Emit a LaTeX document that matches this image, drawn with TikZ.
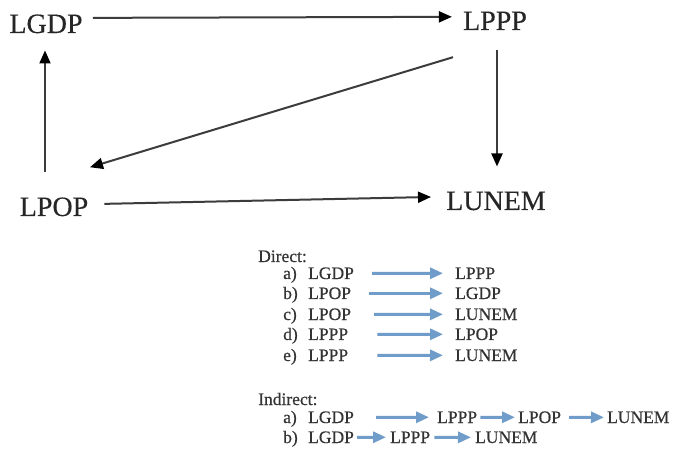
\documentclass[tikz,border=0pt]{standalone}
\usepackage{fontspec}
\setmainfont{Liberation Serif}
\newfontfamily\heavyserif[FakeBold=0.6]{Liberation Serif}
\newfontfamily\bigserif[FakeBold=0.3]{Liberation Serif}
\usetikzlibrary{arrows.meta}
\definecolor{arrgray}{RGB}{60,60,60}
\definecolor{bluearr}{RGB}{112,156,201}
\tikzset{
  big/.style={inner sep=0pt,anchor=base,font=\bigserif\fontsize{28}{30}\selectfont,text=black!85},
  small/.style={inner sep=0pt,anchor=base west,font=\heavyserif\fontsize{17.5}{19}\selectfont,text=black!80},
  arr/.style={draw=arrgray,line width=2pt,-{Triangle[length=13pt,width=11pt,fill=black,color=black]}},
  barr/.style={draw=bluearr,line width=3pt,-{Triangle[length=13pt,width=11pt,fill=bluearr,color=bluearr]}}
}
\begin{document}
\begin{tikzpicture}[x=1pt,y=-1pt]
\useasboundingbox[fill=white] (0,0) rectangle (678,449);
% main graph
\node[big] (LGDP) at (46,33) {LGDP};
\node[big] (LPPP) at (495,30) {LPPP};
\node[big] (LPOP) at (54,216) {LPOP};
\node[big] (LUNEM) at (496,210) {LUNEM};
\draw[arr] ([shift={(10,-6)}]LGDP.east) -- ([shift={(-11,-4)}]LPPP.west);
\draw[arr] ([shift={(-9,-25)}]LPOP.north) -- ([shift={(-1,17)}]LGDP.south);
\draw[arr] ([shift={(-42,27)}]LPPP.south) -- ([shift={(36,-30)}]LPOP.north);
\draw[arr] ([shift={(2,20)}]LPPP.south) -- ([shift={(1,-25)}]LUNEM.north);
\draw[arr] ([shift={(16,-3)}]LPOP.east) -- ([shift={(-15,-4)}]LUNEM.west);
% Direct
\node[small] (dir) at (258,262) {Direct:};
\node[small] (da) at (283,279) {a)};
\node[small] (db) at (283,299) {b)};
\node[small] (dc) at (283,320) {c)};
\node[small] (dd) at (283,340) {d)};
\node[small] (de) at (283,361) {e)};
\node[small] (da1) at (308,279) {LGDP};
\node[small] (db1) at (308,299) {LPOP};
\node[small] (dc1) at (308,320) {LPOP};
\node[small] (dd1) at (308,340) {LPPP};
\node[small] (de1) at (308,361) {LPPP};
\node[small] (da2) at (455,279) {LPPP};
\node[small] (db2) at (455,299) {LGDP};
\node[small] (dc2) at (455,320) {LUNEM};
\node[small] (dd2) at (455,340) {LPOP};
\node[small] (de2) at (455,361) {LUNEM};
\draw[barr] ([xshift=18pt]da1.east) -- ([xshift=-12pt]da2.west);
\draw[barr] ([xshift=18pt]db1.east) -- ([xshift=-12pt]db2.west);
\draw[barr] ([xshift=23pt]dc1.east) -- ([xshift=-12pt]dc2.west);
\draw[barr] ([xshift=29pt]dd1.east) -- ([xshift=-12pt]dd2.west);
\draw[barr] ([xshift=29pt]de1.east) -- ([xshift=-12pt]de2.west);
% Indirect
\node[small] (ind) at (258,405) {Indirect:};
\node[small] (ia) at (283,423) {a)};
\node[small] (ib) at (283,443) {b)};
\node[small] (ia1) at (308,423) {LGDP};
\node[small] (ia2) at (437,423) {LPPP};
\node[small] (ia3) at (518,423) {LPOP};
\node[small] (ia4) at (607,423) {LUNEM};
\node[small] (ib1) at (308,443) {LGDP};
\node[small] (ib2) at (390,443) {LPPP};
\node[small] (ib3) at (475,443) {LUNEM};
\draw[barr] ([xshift=22pt]ia1.east) -- ([xshift=-8pt]ia2.west);
\draw[barr] ([xshift=3pt]ia2.east) -- ([xshift=-3pt]ia3.west);
\draw[barr] ([xshift=8pt]ia3.east) -- ([xshift=-3pt]ia4.west);
\draw[barr] ([xshift=3pt]ib1.east) -- ([xshift=-4pt]ib2.west);
\draw[barr] ([xshift=4pt]ib2.east) -- ([xshift=-4pt]ib3.west);
\end{tikzpicture}
\end{document}
